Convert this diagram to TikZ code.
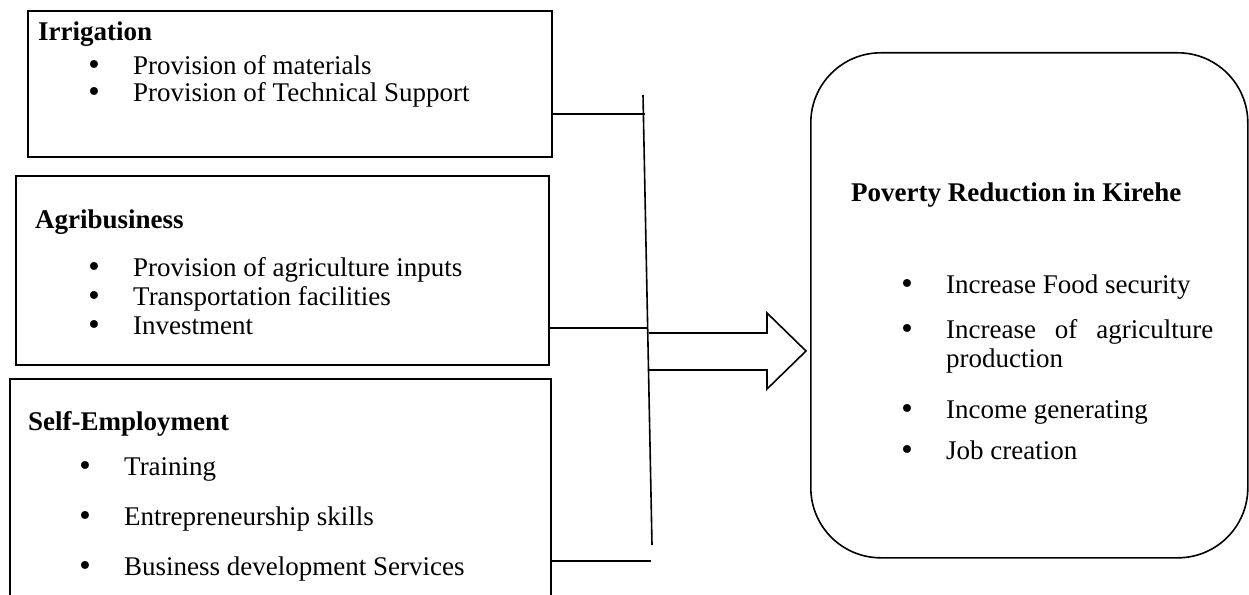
\documentclass[tikz,border=0pt]{standalone}
\usepackage{fontspec}
\setmainfont{Liberation Serif}
\newfontfamily\dotfont{DejaVu Sans}
\usetikzlibrary{calc}
\def\bul{\makebox[47pt][l]{\dotfont\textbullet}}

\tikzset{
	frame/.style={draw, line width=1.6pt, inner sep=0pt, anchor=north west},
	head/.style={anchor=mid west, inner sep=0pt, font=\bfseries\fontsize{27}{31}\selectfont},
	item/.style={anchor=mid west, inner sep=0pt, font=\fontsize{27}{31}\selectfont},
	bus/.style={line width=1.6pt},
}

\begin{document}
\begin{tikzpicture}[x=1pt, y=-1pt]
		%%%%% START %%%%%
		\clip (0, 0) rectangle (1249, 594);
		
		\node[frame, minimum width=524pt, minimum height=146pt] (irr) at (27, 10) {};
		\node[frame, minimum width=533pt, minimum height=189pt] (agri) at (15, 175) {};
		\node[frame, minimum width=541pt, minimum height=260pt] (self) at (9, 378) {};
		\node[frame, rounded corners=70pt, minimum width=437pt, minimum height=505pt] (pov) at (810, 52) {};
		
		\node[head] (irrh) at (38, 38) {Irrigation};
		\node[item] (irr1) at (86, 72) {\bul Provision of materials};
		\node[item] (irr2) at (86, 99) {\bul Provision of Technical Support};
		
		\node[head] (agrih) at (35, 226) {Agribusiness};
		\node[item] (agri1) at (86, 274) {\bul Provision of agriculture inputs};
		\node[item] (agri2) at (86, 303) {\bul Transportation facilities};
		\node[item] (agri3) at (86, 332) {\bul Investment};
		
		\node[head] (selfh) at (28, 428) {Self-Employment};
		\node[item] (self1) at (77, 473) {\bul Training};
		\node[item] (self2) at (77, 523) {\bul Entrepreneurship skills};
		\node[item] (self3) at (77, 573) {\bul Business development Services};
		
		\node[head] (povh) at (851, 199) {Poverty Reduction in Kirehe};
		\node[item] (pov1) at (899, 291) {\bul Increase Food security};
		\node[item] (pov2) at (899, 336) {\bul\makebox[267pt][s]{Increase of agriculture}};
		\node[item] (pov3) at (946, 365) {production};
		\node[item] (pov4) at (899, 416) {\bul Income generating};
		\node[item] (pov5) at (899, 457) {\bul Job creation};
		
		\coordinate (bt) at (643, 95);
		\coordinate (bb) at (652, 545);
		\coordinate (j1) at (645, 114);
		\coordinate (j2) at (648, 328);
		\coordinate (j3) at (651, 561);
		\draw[bus] (bt) -- (bb);
		\draw[bus] (irr.north east |- j1) -- (j1);
		\draw[bus] (agri.north east |- j2) -- (j2);
		\draw[bus] (self.north east |- j3) -- (j3);
		
		\draw[bus] (649, 333) -- (767, 333) -- (767, 313) -- (806, 351) -- (767, 389) -- (767, 370) -- (649, 370);
		
		%%%%% END %%%%%
	\end{tikzpicture}
\end{document}
